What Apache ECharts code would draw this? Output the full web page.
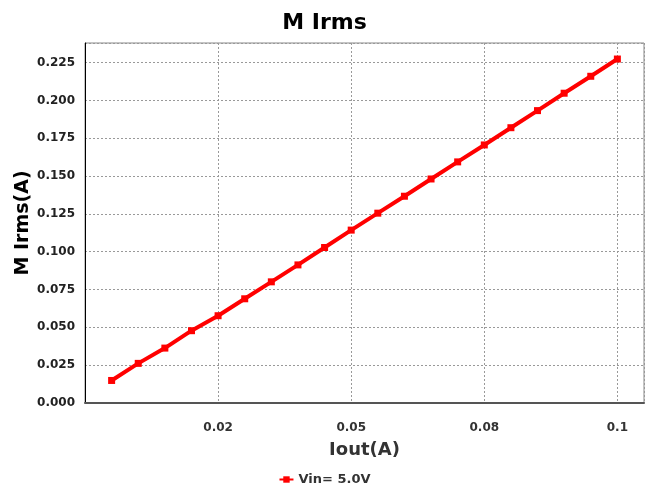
<!DOCTYPE html>
<html>
<head>
<meta charset="utf-8">
<script src="https://cdn.jsdelivr.net/npm/echarts@6/dist/echarts.min.js"></script>
<style>
  html, body { margin: 0; padding: 0; background: #fff; }
  #chart { width: 649px; height: 491px; }
</style>
</head>
<body>
<div id="chart"></div>
<script>
// Output current (A) and measured RMS current (A) at Vin = 5.0V
const ioutValues = [0.005, 0.010, 0.015, 0.020, 0.025, 0.030, 0.035, 0.040, 0.045, 0.050,
                    0.055, 0.060, 0.065, 0.070, 0.075, 0.080, 0.085, 0.090, 0.095, 0.100];
const irmsValues = [0.0149, 0.0262, 0.0363, 0.0478, 0.0577, 0.0689, 0.0801, 0.0913, 0.1028, 0.1143,
                    0.1255, 0.1367, 0.1481, 0.1594, 0.1706, 0.1820, 0.1933, 0.2048, 0.2160, 0.2274];
const seriesName = 'Vin= 5.0V';

// X tick labels shown at each 0.025 step
const xTickValues = [0.025, 0.05, 0.075, 0.1];
const xTickLabels = ['0.02', '0.05', '0.08', '0.1'];

const points = ioutValues.map((x, i) => [x, irmsValues[i]]);
const font = 'DejaVu Sans, Verdana, sans-serif';

const chart = echarts.init(document.getElementById('chart'), null, { renderer: 'canvas' });
chart.setOption({
  animation: false,
  backgroundColor: '#fff',
  title: {
    text: 'M Irms',
    left: 'center',
    top: 7,
    textStyle: { fontFamily: font, fontSize: 22, fontWeight: 'bold', color: '#000' }
  },
  legend: {
    top: 468,
    left: 'center',
    itemWidth: 14,
    itemHeight: 8,
    itemGap: 4,
    data: [{ name: seriesName }],
    textStyle: { fontFamily: font, fontSize: 13, fontWeight: 'bold', color: '#333' }
  },
  grid: { left: 85, right: 5, top: 43, bottom: 88, show: true, borderColor: '#888', borderWidth: 1 },
  xAxis: {
    type: 'value',
    min: 0,
    max: 0.105,
    interval: 0.025,
    name: 'Iout(A)',
    nameLocation: 'middle',
    nameGap: 38,
    nameTextStyle: { fontFamily: font, fontSize: 18, fontWeight: 'bold', color: '#333' },
    axisLine: { show: true, onZero: false, lineStyle: { color: '#555', width: 2 } },
    axisTick: { show: false },
    axisLabel: {
      margin: 19,
      fontFamily: font, fontSize: 12, fontWeight: 'bold', color: '#333',
      showMaxLabel: false, showMinLabel: false,
      formatter: function (v) {
        for (let i = 0; i < xTickValues.length; i++) {
          if (Math.abs(v - xTickValues[i]) < 1e-9) return xTickLabels[i];
        }
        return '';
      }
    },
    splitLine: { show: true, lineStyle: { color: '#999', type: [2, 2], width: 1 } }
  },
  yAxis: {
    type: 'value',
    min: 0,
    max: 0.238,
    interval: 0.025,
    name: 'M Irms(A)',
    nameLocation: 'middle',
    nameGap: 52,
    nameMoveOverlap: false,
    nameTextStyle: { fontFamily: font, fontSize: 19, fontWeight: 'bold', color: '#000' },
    axisLine: { show: true, lineStyle: { color: '#000', width: 1 } },
    axisTick: { show: false },
    axisLabel: {
      margin: 10,
      fontFamily: font, fontSize: 12, fontWeight: 'bold', color: '#222',
      showMaxLabel: false,
      formatter: function (v) { return v.toFixed(3); }
    },
    splitLine: { show: true, lineStyle: { color: '#999', type: [2, 2], width: 1 } }
  },
  series: [{
    name: seriesName,
    type: 'line',
    data: points,
    color: '#ff0000',
    symbol: 'rect',
    symbolSize: 7,
    lineStyle: { width: 4, color: '#ff0000' },
    itemStyle: { color: '#ff0000' }
  }]
});
</script>
</body>
</html>
